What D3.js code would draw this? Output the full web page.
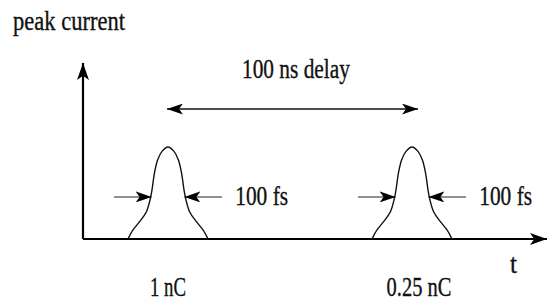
<!DOCTYPE html>
<html lang="en">
<head>
  <meta charset="UTF-8">
  <title>Peak current pulses</title>
  <script src="https://d3js.org/d3.v7.min.js"></script>
  <style>
    body { margin: 0; background: #fff; }
    .pulse { fill: none; stroke: #111; stroke-width: 1.4; }
    .axis { stroke: #000; stroke-width: 2.2; }
    .wid { stroke: #222; stroke-width: 1.1; }
    .delay { stroke: #111; stroke-width: 1.5; }
  </style>
</head>
<body>
  <svg width="547" height="305"></svg>

  <script>
    // pulse centres along t (arbitrary units), their charges
    const pulseCenters = [21.25, 82.25];
    const pulseCharges = ["1 nC", "0.25 nC"];
    const widthLabel = "100 fs";
    const delayLabel = "100 ns delay";
    const yLabel = "peak current";
    const xLabel = "t";

    // half profile of one pulse: offset from centre, relative height
    const shapeOffset = [0, 1.45, 2.6, 3.4, 4.0, 4.4, 5.4, 7.1, 8.75, 10];
    const shapeAmp = [1, 0.955, 0.86, 0.714, 0.533, 0.442, 0.297, 0.188, 0.098, 0];

    // width arrows (tail, tip offsets) and their height, delay arrow ends
    const widthArrow = [13.5, 4.1];
    const widthLevel = 0.457;
    const delayEnds = [21, 83.75];
    const delayLevel = 1.413;
    const axisEnd = { t: 116, amp: 1.913 };

    const FONT = '"Liberation Serif", "Times New Roman", serif';

    const svg = d3.select('svg');
    const x = d3.scaleLinear().domain([0, 116]).range([83, 547]);
    const y = d3.scaleLinear().domain([0, 1]).range([239, 147]);

    const defs = svg.append('defs');
    function marker(id, len, half) {
      defs.append('marker')
        .attr('id', id)
        .attr('markerUnits', 'userSpaceOnUse')
        .attr('viewBox', `${-len} ${-half} ${len} ${half * 2}`)
        .attr('markerWidth', len).attr('markerHeight', half * 2)
        .attr('refX', 0).attr('refY', 0)
        .attr('orient', 'auto-start-reverse')
        .append('path')
        .attr('d', `M0,0L${-len},${-half}L${-len * 0.75},0L${-len},${half}Z`)
        .attr('fill', '#000');
    }
    marker('ah', 17, 6);
    marker('sh', 16, 5.5);

    // condensed serif label: left x, baseline y, target width
    function label(parent, txt, lx, by, w, size) {
      const t = parent.append('text')
        .attr('font-family', FONT).attr('font-size', size || 27)
        .attr('fill', '#111').attr('stroke', '#111').attr('stroke-width', 0.35)
        .text(txt);
      const nat = t.node().getComputedTextLength();
      t.attr('transform', `translate(${lx},${by}) scale(${w / nat},1)`);
      return t;
    }

    // axes
    svg.append('line').attr('class', 'axis')
      .attr('x1', x(0)).attr('y1', y(0)).attr('x2', x(0)).attr('y2', y(axisEnd.amp))
      .attr('marker-end', 'url(#ah)');
    svg.append('line').attr('class', 'axis')
      .attr('x1', x(0)).attr('y1', y(0)).attr('x2', x(axisEnd.t)).attr('y2', y(0))
      .attr('marker-end', 'url(#ah)');

    // full symmetric profile
    const profile = [];
    for (let i = shapeOffset.length - 1; i > 0; i--) profile.push([-shapeOffset[i], shapeAmp[i]]);
    for (let i = 0; i < shapeOffset.length; i++) profile.push([shapeOffset[i], shapeAmp[i]]);

    const line = d3.line().curve(d3.curveCatmullRom.alpha(0.5));

    pulseCenters.forEach((c, i) => {
      svg.append('path').attr('class', 'pulse')
        .attr('d', line(profile.map(p => [x(c + p[0]), y(p[1])])));

      [-1, 1].forEach(s => {
        svg.append('line').attr('class', 'wid')
          .attr('x1', x(c + s * widthArrow[0])).attr('y1', y(widthLevel))
          .attr('x2', x(c + s * widthArrow[1])).attr('y2', y(widthLevel))
          .attr('marker-end', 'url(#sh)');
      });

      label(svg, widthLabel, x(c + 16.8), 205, 53, 28);
      const w = i ? 65 : 36;
      label(svg, pulseCharges[i], x(c) + (i ? 7 : 0) - w / 2, 296, w);
    });

    // delay arrow
    svg.append('line').attr('class', 'delay')
      .attr('x1', x(delayEnds[0])).attr('y1', y(delayLevel))
      .attr('x2', x(delayEnds[1])).attr('y2', y(delayLevel))
      .attr('marker-start', 'url(#sh)').attr('marker-end', 'url(#sh)');

    label(svg, delayLabel, 242, 78, 108);
    label(svg, yLabel, 13, 30, 112);
    label(svg, xLabel, 510, 273, 7, 28);
  </script>
</body>
</html>
